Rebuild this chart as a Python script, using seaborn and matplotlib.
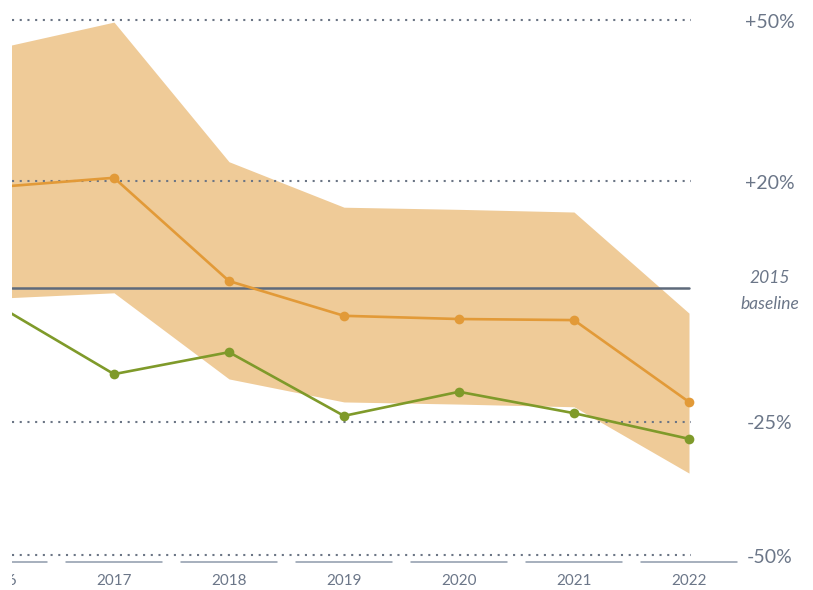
import numpy as np
import pandas as pd
from matplotlib import pyplot as plt
import seaborn as sns

years = [2016, 2017, 2018, 2019, 2020, 2021, 2022]
orange_vals = [18.9, 20.6, 1.3, -5.2, -5.8, -6.0, -21.3]
green_vals = [-3.4, -16.1, -12.0, -23.9, -19.4, -23.4, -28.2]
band_upper = [44.9, 49.7, 23.6, 15.1, 14.7, 14.2, -4.7]
band_lower = [-1.9, -0.9, -17.0, -21.3, -21.7, -22.2, -34.6]
grid_levels = [50, 20, -25, -50]
grid_labels = ['+50%', '+20%', '-25%', '-50%']

band_col = '#EFCB98'
orange = '#E29A38'
green = '#7F9A2A'
text_col = '#6B7688'
dot_col = '#6B7585'

sns.set_style('white')
plt.rcParams['font.family'] = ['Lato', 'DejaVu Sans']

fig = plt.figure(figsize=(8.13, 5.9), dpi=100)
ax = fig.add_axes([12 / 813, 0, 1 - 12 / 813, 1])
x_left = 2017 - 102 / 115
x_right = 2017 + 699 / 115
ax.set_xlim(x_left, x_right)
ax.set_ylim(-56.45, 53.83)
ax.axis('off')

df = pd.DataFrame({'year': years, 'orange': orange_vals, 'green': green_vals})

# shaded range
ax.fill_between(years, band_lower, band_upper, color=band_col, lw=0, zorder=1)

for lvl in grid_levels:
    ax.plot([x_left, 2022.02], [lvl, lvl], color=dot_col, lw=1.5,
            linestyle=(0, (1, 2.7)), zorder=2)
ax.plot([x_left, 2022], [0, 0], color='#5E6A7B', lw=1.8, zorder=3)

sns.lineplot(data=df, x='year', y='orange', color=orange, lw=1.9,
             marker='o', markersize=7, markeredgewidth=0, ax=ax, zorder=4)
sns.lineplot(data=df, x='year', y='green', color=green, lw=1.9,
             marker='o', markersize=7, markeredgewidth=0, ax=ax, zorder=5)
ax.set_xlim(x_left, x_right)
ax.set_ylim(-56.45, 53.83)

for lvl, lab in zip(grid_levels, grid_labels):
    ax.text(2022.70, lvl - 0.4, lab, ha='center', va='center', fontsize=14,
            color=text_col)
ax.text(2022.70, 1.8, '2015', ha='center', va='center', fontsize=12.5,
        style='italic', color=text_col)
ax.text(2022.70, -2.9, 'baseline', ha='center', va='center', fontsize=12.5,
        style='italic', color=text_col)

# year separators and labels
for yr in years:
    ax.plot([yr - 0.42, yr + 0.42], [-51.3, -51.3], color='#8E9AAB', lw=1.1,
            zorder=2)
    ax.text(yr, -54.75, str(yr), ha='center', va='center', fontsize=11,
            color=text_col, clip_on=True)

fig.savefig('out.png', dpi=100)
